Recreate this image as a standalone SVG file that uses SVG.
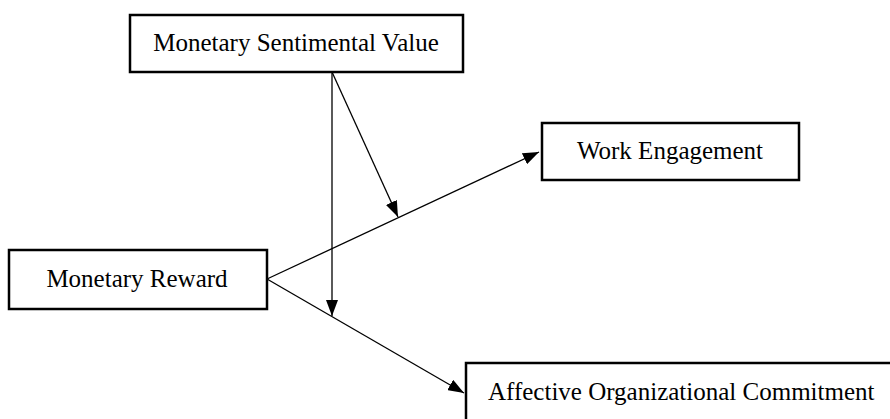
<svg xmlns="http://www.w3.org/2000/svg" width="890" height="419" viewBox="0 0 890 419">
<style>
.box{fill:#fff;stroke:#000;stroke-width:2.5}
.lbl{font-family:"Liberation Serif","Times New Roman",serif;font-size:25px;fill:#000}
.ln{stroke:#000;stroke-width:1.3;fill:none;marker-end:url(#ah)}
</style>
<defs>
<marker id="ah" markerWidth="16" markerHeight="12" refX="16" refY="6" orient="auto" markerUnits="userSpaceOnUse">
<path d="M0,0 L16,6 L0,12 Z" fill="#000"/>
</marker>
</defs>
<rect width="890" height="419" fill="#fff"/>
<g id="connectors">
<line class="ln" x1="332" y1="72" x2="332" y2="316"/>
<line class="ln" x1="332" y1="72" x2="398" y2="217"/>
<line class="ln" x1="267" y1="279" x2="539" y2="152"/>
<line class="ln" x1="267" y1="279" x2="464" y2="393"/>
</g>
<g id="msv">
<rect class="box" x="130" y="15" width="333" height="57"/>
<text class="lbl" x="296" y="51" text-anchor="middle">Monetary Sentimental Value</text>
</g>
<g id="we">
<rect class="box" x="542" y="123" width="257" height="57"/>
<text class="lbl" x="670" y="159" text-anchor="middle">Work Engagement</text>
</g>
<g id="mr">
<rect class="box" x="9" y="250" width="258" height="59"/>
<text class="lbl" x="137" y="287" text-anchor="middle">Monetary Reward</text>
</g>
<g id="aoc">
<rect class="box" x="466" y="363" width="440" height="70"/>
<text class="lbl" x="488" y="400">Affective Organizational Commitment</text>
</g>
</svg>
